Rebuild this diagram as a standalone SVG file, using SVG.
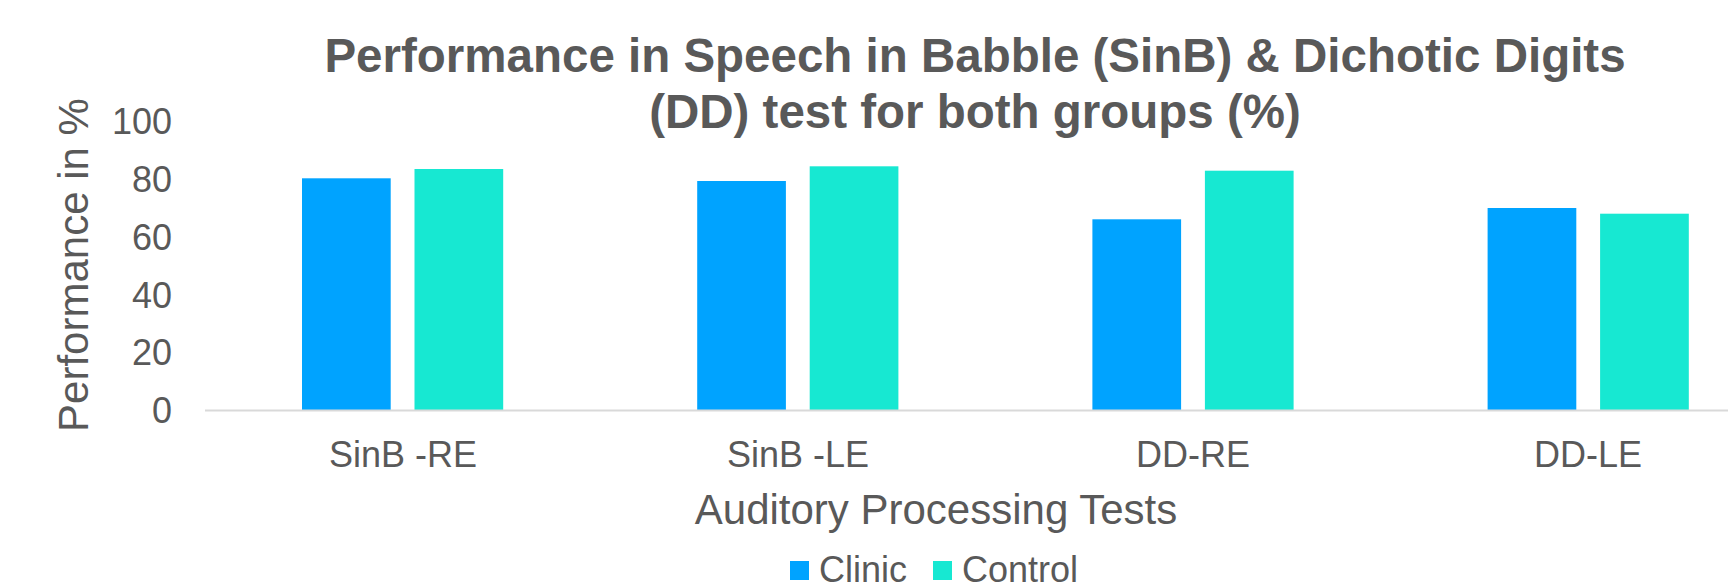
<svg xmlns="http://www.w3.org/2000/svg" width="1728" height="584" viewBox="0 0 1728 584">
  <style>
    .txt { font-family: "Liberation Sans", Arial, sans-serif; fill: #595959; }
    .title { font-size: 47.5px; font-weight: bold; text-anchor: middle; }
    .tick { font-size: 36px; text-anchor: end; }
    .cat { font-size: 36px; text-anchor: middle; }
    .axis-title { font-size: 42px; text-anchor: middle; }
    .legend { font-size: 36px; }
    .clinic { fill: #00A3FF; }
    .control { fill: #17E8D2; }
  </style>
  <rect width="1728" height="584" fill="#FFFFFF"/>

  <!-- Chart title -->
  <g id="title">
    <text class="txt title" x="975" y="72">Performance in Speech in Babble (SinB) &amp; Dichotic Digits</text>
    <text class="txt title" x="975" y="128">(DD) test for both groups (%)</text>
  </g>

  <!-- Value axis -->
  <g id="y-axis">
    <text class="txt axis-title" transform="translate(88,265) rotate(-90)">Performance in %</text>
    <text class="txt tick" x="172" y="134.3">100</text>
    <text class="txt tick" x="172" y="192.0">80</text>
    <text class="txt tick" x="172" y="249.8">60</text>
    <text class="txt tick" x="172" y="307.5">40</text>
    <text class="txt tick" x="172" y="365.3">20</text>
    <text class="txt tick" x="172" y="423.3">0</text>
  </g>

  <!-- Bars: one group per test -->
  <g id="sinb-re">
    <rect class="clinic" x="302" y="178.3" width="88.7" height="231.7"/>
    <rect class="control" x="414.5" y="169" width="88.7" height="241"/>
    <text class="txt cat" x="403" y="466.7">SinB -RE</text>
  </g>
  <g id="sinb-le">
    <rect class="clinic" x="697.2" y="181" width="88.7" height="229"/>
    <rect class="control" x="809.7" y="166.3" width="88.7" height="243.7"/>
    <text class="txt cat" x="798" y="466.7">SinB -LE</text>
  </g>
  <g id="dd-re">
    <rect class="clinic" x="1092.4" y="219.3" width="88.7" height="190.7"/>
    <rect class="control" x="1204.9" y="170.7" width="88.7" height="239.3"/>
    <text class="txt cat" x="1193" y="466.7">DD-RE</text>
  </g>
  <g id="dd-le">
    <rect class="clinic" x="1487.6" y="208" width="88.7" height="202"/>
    <rect class="control" x="1600.1" y="213.7" width="88.7" height="196.3"/>
    <text class="txt cat" x="1588" y="466.7">DD-LE</text>
  </g>

  <!-- Category axis baseline -->
  <g id="connectors">
    <line x1="205" y1="410.5" x2="1728" y2="410.5" stroke="#D9D9D9" stroke-width="2"/>
  </g>

  <g id="x-axis">
    <text class="txt axis-title" x="936" y="524">Auditory Processing Tests</text>
  </g>

  <!-- Legend -->
  <g id="legend">
    <rect class="clinic" x="790" y="561" width="19" height="19"/>
    <text class="txt legend" x="819" y="582">Clinic</text>
    <rect class="control" x="933" y="561" width="19" height="19"/>
    <text class="txt legend" x="962" y="582">Control</text>
  </g>
</svg>
